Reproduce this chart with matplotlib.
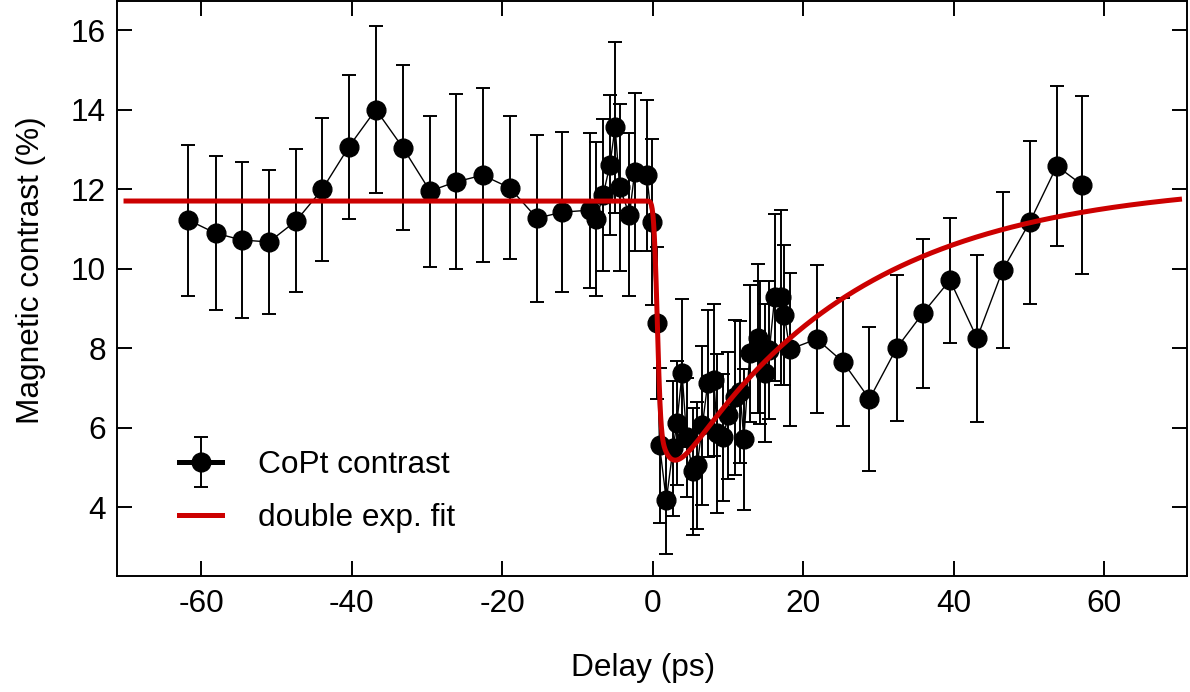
"""Magnetic contrast vs pump-probe delay with a double exponential fit."""

import math

import matplotlib
matplotlib.use("Agg")
import matplotlib.pyplot as plt
import numpy as np
from matplotlib.container import ErrorbarContainer
from matplotlib.legend_handler import HandlerErrorbar


delay_ps = [
    -61.7, -58.1, -54.6, -51.0, -47.4, -43.9, -40.4, -36.8, -33.2, -29.6,
    -26.2, -22.6, -19.0, -15.4, -12.0, -8.4, -7.5, -6.6, -5.7, -5.0,
    -4.4, -3.1, -2.4, -0.8, -0.1, 0.5, 0.9, 1.8, 2.7, 3.2,
    3.9, 4.5, 5.3, 5.9, 6.6, 7.3, 8.1, 8.6, 9.4, 10.0,
    10.9, 11.6, 12.1, 12.9, 14.0, 14.2, 14.9, 15.5, 16.2, 17.1,
    17.5, 18.2, 21.8, 25.3, 28.8, 32.4, 35.9, 39.5, 43.1, 46.5,
    50.1, 53.7, 57.1,
]
contrast = [
    11.22, 10.89, 10.72, 10.67, 11.20, 12.00, 13.06, 14.00, 13.04, 11.95,
    12.18, 12.35, 12.03, 11.27, 11.42, 11.47, 11.25, 11.85, 12.60, 13.56,
    12.05, 11.35, 12.43, 12.35, 11.17, 8.63, 5.56, 4.18, 5.48, 6.11,
    7.37, 5.76, 4.90, 5.05, 6.06, 7.12, 7.20, 5.86, 5.76, 6.31,
    6.77, 6.90, 5.71, 7.87, 8.25, 7.90, 7.37, 7.95, 9.28, 9.28,
    8.83, 7.97, 8.23, 7.65, 6.72, 8.00, 8.88, 9.71, 8.25, 9.96,
    11.17, 12.58, 12.10,
]
contrast_err = [
    1.90, 1.93, 1.96, 1.80, 1.80, 1.80, 1.80, 2.10, 2.07, 1.90,
    2.20, 2.18, 1.80, 2.10, 2.02, 1.95, 1.93, 1.90, 1.76, 2.15,
    2.10, 2.05, 1.98, 1.90, 2.08, 1.92, 1.95, 1.36, 1.70, 1.56,
    1.86, 1.50, 1.60, 1.60, 2.00, 1.85, 1.90, 2.00, 1.60, 1.60,
    1.95, 1.78, 1.77, 1.73, 1.87, 1.80, 1.74, 1.74, 2.10, 2.20,
    1.76, 1.93, 1.86, 1.61, 1.80, 1.83, 1.87, 1.57, 2.10, 1.96,
    2.05, 2.00, 2.24,
]

# double exponential fit parameters (fast + slow demagnetisation, recovery)
fit_y0 = 11.7
fit_t0 = 0.55
fit_sigma = 0.35
fit_a_fast = 5.8
fit_a_slow = 2.45
fit_tau_slow = 1.5
fit_tau_rec = 24.0
fit_offset = 0.5
fit_range = (-70.0, 70.0)

RED = "#cc0000"
FONT = 22.8


def double_exp(t):
    s = np.clip(t - fit_t0, 0, None)
    onset = 0.5 * (1 + np.vectorize(math.erf)((t - fit_t0) / (fit_sigma * math.sqrt(2))))
    drop = (fit_a_fast + fit_a_slow * (1 - np.exp(-s / fit_tau_slow))) * np.exp(-s / fit_tau_rec)
    return fit_y0 - onset * (drop - fit_offset)


plt.rcParams["font.family"] = ["Liberation Sans", "DejaVu Sans"]
plt.rcParams["axes.unicode_minus"] = False

fig = plt.figure(figsize=(11.9, 6.92), dpi=100)
ax = fig.add_axes([117 / 1190, 116 / 692, 1070 / 1190, 575 / 692])

ax.errorbar(delay_ps, contrast, yerr=contrast_err, fmt="o-", color="black",
            ms=13.5, lw=1.0, elinewidth=1.4, capsize=5, capthick=1.4, zorder=2)

t_fit = np.linspace(fit_range[0], fit_range[1], 3000)
ax.plot(t_fit, double_exp(t_fit), color=RED, lw=3.6, zorder=3, label="double exp. fit")

# legend proxy for the data: thick line handle like the original
proxy = ax.errorbar([np.nan], [np.nan], yerr=[1.0], fmt="o-", color="black", ms=13.5,
                    lw=3.6, elinewidth=1.4, capsize=5, capthick=1.4, label="CoPt contrast")

handles, labels = ax.get_legend_handles_labels()
order = [labels.index("CoPt contrast"), labels.index("double exp. fit")]
ax.legend([handles[i] for i in order], [labels[i] for i in order],
          loc="upper left", bbox_to_anchor=(62 / 1070, 1 - 449 / 575),
          frameon=False, fontsize=FONT, handlelength=1.36, handletextpad=1.14,
          labelspacing=0.74, borderpad=0, borderaxespad=0,
          handler_map={ErrorbarContainer: HandlerErrorbar(yerr_size=0.79)})

ax.set_xlim(-71.2, 71.0)
ax.set_ylim(2.27, 16.73)
ax.set_xticks([-60, -40, -20, 0, 20, 40, 60])
ax.set_yticks([4, 6, 8, 10, 12, 14, 16])
ax.tick_params(direction="in", length=10.8, width=1.4, labelsize=FONT,
               top=True, right=True)
ax.tick_params(axis="x", pad=9)
ax.tick_params(axis="y", pad=8)
for spine in ax.spines.values():
    spine.set_linewidth(1.4)

ax.set_xlabel("Delay (ps)", fontsize=FONT)
ax.set_ylabel("Magnetic contrast (%)", fontsize=FONT)
ax.xaxis.set_label_coords(0.4916, -0.134)
ax.yaxis.set_label_coords(-0.066, 0.532)

fig.savefig("out.png", dpi=100)
